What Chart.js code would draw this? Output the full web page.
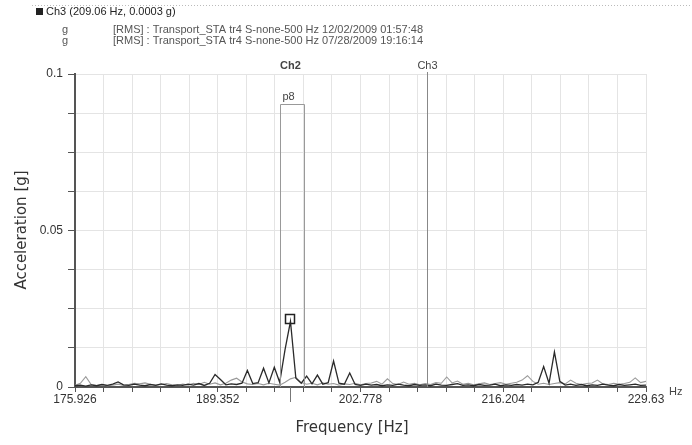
<!DOCTYPE html>
<html>
<head>
<meta charset="utf-8">
<script src="https://cdn.jsdelivr.net/npm/chart.js@4"></script>
<style>
  html, body { margin: 0; padding: 0; background: #fff; }
  #wrap { position: relative; width: 692px; height: 445px; }
</style>
</head>
<body>
<div id="wrap"><canvas id="spectrum-chart" width="692" height="445"></canvas></div>
<script>
// frequency bins (Hz): start + bin resolution
var freqStart = 175.926;
var freqStep = 0.50664;

// RMS acceleration [g], 12/02/2009 (dark trace)
var ch1Values = [
  0.0004, 0.0006, 0.0003, 0.0007, 0.0004, 0.0008, 0.0005, 0.0009, 0.0016, 0.0007,
  0.0005, 0.0009, 0.0006, 0.0004, 0.0008, 0.0005, 0.0010, 0.0006, 0.0004, 0.0007,
  0.0005, 0.0009, 0.0006, 0.0011, 0.0005, 0.0012, 0.0040, 0.0024, 0.0007, 0.0010,
  0.0008, 0.0012, 0.0053, 0.0011, 0.0014, 0.0060, 0.0013, 0.0063, 0.0015, 0.0120,
  0.0210, 0.0028, 0.0012, 0.0035, 0.0010, 0.0038, 0.0009, 0.0014, 0.0083, 0.0012,
  0.0009, 0.0045, 0.0008, 0.0005, 0.0009, 0.0006, 0.0008, 0.0004, 0.0007, 0.0005,
  0.0009, 0.0006, 0.0004, 0.0008, 0.0005, 0.0007, 0.0004, 0.0009, 0.0006, 0.0005,
  0.0008, 0.0011, 0.0005, 0.0007, 0.0004, 0.0008, 0.0005, 0.0006, 0.0009, 0.0004,
  0.0007, 0.0005, 0.0008, 0.0006, 0.0009, 0.0007, 0.0015, 0.0065, 0.0012, 0.0112,
  0.0018, 0.0006, 0.0009, 0.0005, 0.0008, 0.0004, 0.0007, 0.0005, 0.0009, 0.0006,
  0.0004, 0.0008, 0.0005, 0.0007, 0.0009, 0.0005, 0.0006
];

// RMS acceleration [g], 07/28/2009 (grey trace)
var ch2Values = [
  0.0005, 0.0012, 0.0033, 0.0008, 0.0005, 0.0007, 0.0004, 0.0006, 0.0009, 0.0005,
  0.0008, 0.0012, 0.0010, 0.0013, 0.0009, 0.0006, 0.0008, 0.0011, 0.0007, 0.0005,
  0.0009, 0.0006, 0.0012, 0.0008, 0.0015, 0.0009, 0.0013, 0.0007, 0.0012, 0.0022,
  0.0028, 0.0016, 0.0010, 0.0008, 0.0011, 0.0007, 0.0012, 0.0009, 0.0006, 0.0015,
  0.0026, 0.0031, 0.0014, 0.0009, 0.0012, 0.0007, 0.0013, 0.0009, 0.0011, 0.0006,
  0.0010, 0.0008, 0.0012, 0.0007, 0.0011, 0.0013, 0.0018, 0.0009, 0.0026, 0.0011,
  0.0008, 0.0016, 0.0009, 0.0012, 0.0007, 0.0011, 0.0008, 0.0014, 0.0012, 0.0032,
  0.0013, 0.0019, 0.0009, 0.0012, 0.0007, 0.0010, 0.0013, 0.0008, 0.0011, 0.0014,
  0.0009, 0.0012, 0.0015, 0.0022, 0.0036, 0.0018, 0.0009, 0.0012, 0.0008, 0.0011,
  0.0014, 0.0010, 0.0022, 0.0012, 0.0008, 0.0011, 0.0013, 0.0022, 0.0010, 0.0008,
  0.0012, 0.0009, 0.0011, 0.0015, 0.0029, 0.0014, 0.0018
];

var xTickLabels = [175.926, 189.352, 202.778, 216.204, 229.63];
var yTickLabels = [0, 0.05, 0.1];
var yGridStep = 0.0125;

// cursors / markers
var ch3Cursor = 209.06;
var ch2Cursor = 196.19;
var p8Band = [195.21, 197.46, 0.0904];
var peakMarker = [196.19, 0.0218];

var headerLines = [
  "Ch3 (209.06 Hz, 0.0003 g)",
  "[RMS] : Transport_STA tr4 S-none-500 Hz 12/02/2009 01:57:48",
  "[RMS] : Transport_STA tr4 S-none-500 Hz 07/28/2009 19:16:14"
];

var ch1Points = ch1Values.map(function (v, i) { return { x: freqStart + i * freqStep, y: v }; });
var ch2Points = ch2Values.map(function (v, i) { return { x: freqStart + i * freqStep, y: v }; });

var narrow = "'Liberation Sans Narrow', 'Liberation Sans', Arial, sans-serif";

var overlay = {
  id: "overlay",
  afterDraw: function (chart) {
    var c = chart.ctx;
    var xs = chart.scales.x, ys = chart.scales.y;
    var area = chart.chartArea;
    c.save();

    // header
    c.strokeStyle = "#bbb";
    c.lineWidth = 1;
    c.setLineDash([1, 2]);
    c.beginPath(); c.moveTo(32, 5.5); c.lineTo(692, 5.5); c.stroke();
    c.setLineDash([]);
    c.fillStyle = "#222";
    c.fillRect(36, 8, 7, 7);
    c.font = "11px " + narrow;
    c.textBaseline = "middle";
    c.textAlign = "left";
    c.fillText(headerLines[0], 46, 12);
    c.fillStyle = "#555";
    c.fillText("g", 62, 30);
    c.fillText(headerLines[1], 113, 30);
    c.fillText("g", 62, 41);
    c.fillText(headerLines[2], 113, 41);

    // Ch3 cursor
    var x3 = Math.round(xs.getPixelForValue(ch3Cursor)) + 0.5;
    c.strokeStyle = "#888";
    c.lineWidth = 1;
    c.beginPath(); c.moveTo(x3, area.top - 2); c.lineTo(x3, area.bottom); c.stroke();

    // Ch2 cursor (below axis)
    var x2 = Math.round(xs.getPixelForValue(ch2Cursor)) + 0.5;
    c.strokeStyle = "#777";
    c.beginPath(); c.moveTo(x2, area.bottom); c.lineTo(x2, area.bottom + 15); c.stroke();

    // p8 band
    var bl = Math.round(xs.getPixelForValue(p8Band[0])) + 0.5;
    var br = Math.round(xs.getPixelForValue(p8Band[1])) + 0.5;
    var bt = Math.round(ys.getPixelForValue(p8Band[2])) + 0.5;
    c.strokeStyle = "#999";
    c.beginPath();
    c.moveTo(bl, area.bottom); c.lineTo(bl, bt); c.lineTo(br, bt); c.lineTo(br, area.bottom);
    c.stroke();

    // peak marker
    var px = xs.getPixelForValue(peakMarker[0]);
    var py = ys.getPixelForValue(peakMarker[1]);
    c.strokeStyle = "#222";
    c.lineWidth = 1.5;
    c.strokeRect(Math.round(px) - 4.5, Math.round(py) - 4.5, 9, 9);

    // cursor labels
    c.fillStyle = "#444";
    c.textAlign = "center";
    c.font = "bold 11px " + narrow;
    c.fillText("Ch2", x2, 66);
    c.font = "11px " + narrow;
    c.fillText("Ch3", x3, 66);
    c.fillText("p8", bl + 8, 97);
    c.textAlign = "left";
    c.fillText("Hz", 669, 392);

    // axis titles
    c.fillStyle = "#333";
    c.font = "15px 'DejaVu Sans', Verdana, sans-serif";
    c.textAlign = "center";
    c.fillText("Frequency [Hz]", 352, 428);
    c.translate(22, 230);
    c.rotate(-Math.PI / 2);
    c.fillText("Acceleration [g]", 0, 0);
    c.restore();
  }
};

var ctx = document.getElementById("spectrum-chart");

var myChart = new Chart(ctx, {
  type: "line",
  data: {
    datasets: [
      {
        label: "12/02/2009",
        data: ch1Points,
        borderColor: "#2a2a2a",
        borderWidth: 1.3,
        pointRadius: 0,
        tension: 0,
        fill: false
      },
      {
        label: "07/28/2009",
        data: ch2Points,
        borderColor: "#999999",
        borderWidth: 1.1,
        pointRadius: 0,
        tension: 0,
        fill: false
      }
    ]
  },
  options: {
    responsive: false,
    animation: false,
    layout: {
      padding: { left: 0, top: 74, right: 46, bottom: 0 }
    },
    plugins: {
      legend: { display: false },
      tooltip: { enabled: false }
    },
    scales: {
      x: {
        type: "linear",
        min: xTickLabels[0],
        max: xTickLabels[xTickLabels.length - 1],
        afterFit: function (scale) { scale.height = 58; },
        afterBuildTicks: function (scale) {
          var t = [];
          for (var i = 0; i < xTickLabels.length - 1; i++) {
            var a = xTickLabels[i], b = xTickLabels[i + 1];
            for (var k = 0; k < 5; k++) t.push({ value: a + (b - a) * k / 5 });
          }
          t.push({ value: xTickLabels[xTickLabels.length - 1] });
          scale.ticks = t;
        },
        ticks: {
          autoSkip: false,
          maxRotation: 0,
          padding: 0,
          color: "#333",
          font: { size: 12, family: narrow },
          callback: function (v, i) {
            return i % 5 === 0 ? String(xTickLabels[i / 5]) : "";
          }
        },
        grid: {
          color: "#e4e4e4",
          tickColor: "#555",
          tickLength: 5,
          lineWidth: 1
        },
        border: { color: "#555", width: 2 }
      },
      y: {
        min: 0,
        max: 0.1,
        afterFit: function (scale) { scale.width = 75; },
        afterBuildTicks: function (scale) {
          var t = [];
          for (var k = 0; k <= 8; k++) t.push({ value: +(k * yGridStep).toFixed(4) });
          scale.ticks = t;
        },
        ticks: {
          autoSkip: false,
          padding: 5,
          color: "#333",
          font: { size: 12, family: narrow },
          callback: function (v) {
            for (var i = 0; i < yTickLabels.length; i++) {
              if (Math.abs(v - yTickLabels[i]) < 1e-6) return String(yTickLabels[i]);
            }
            return "";
          }
        },
        grid: {
          color: "#e4e4e4",
          tickColor: "#555",
          tickLength: 7,
          lineWidth: 1
        },
        border: { color: "#555", width: 2 }
      }
    }
  },
  plugins: [overlay]
});
</script>
</body>
</html>
